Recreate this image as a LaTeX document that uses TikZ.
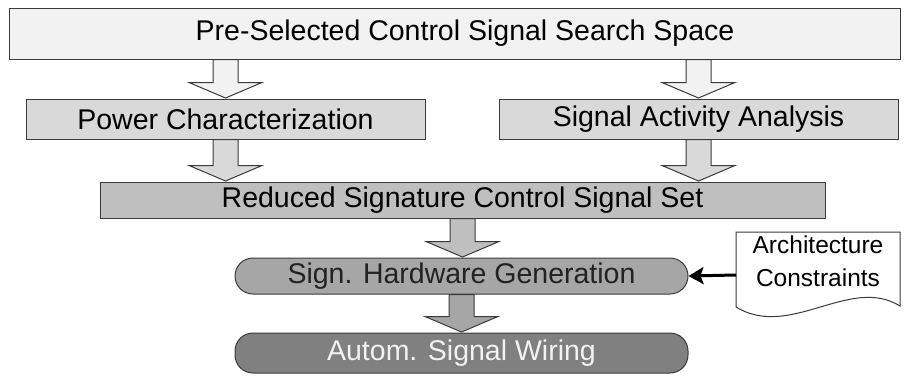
\documentclass[tikz,border=0pt]{standalone}
\usepackage{fontspec}
\setmainfont{Liberation Sans}
\usetikzlibrary{arrows.meta,calc}
\definecolor{lineC}{HTML}{3A3A3A}
\definecolor{fTop}{HTML}{F2F2F2}
\definecolor{fMid}{HTML}{D9D9D9}
\definecolor{fRed}{HTML}{BFBFBF}
\definecolor{fSig}{HTML}{A6A6A6}
\definecolor{fAut}{HTML}{808080}
\definecolor{tSig}{HTML}{222222}
\definecolor{tAut}{HTML}{F2F2F2}
\tikzset{
  boxbase/.style={draw=lineC, line width=1pt, inner sep=0pt, font=\fontsize{28.5pt}{34pt}\selectfont},
  flatbox/.style={boxbase, rectangle},
  pillbox/.style={boxbase, rectangle, rounded corners=18pt},
  arrowline/.style={draw=lineC, line width=1pt, line join=miter},
  docline/.style={draw=lineC, line width=1pt, fill=white},
  feedarrow/.style={line width=3pt, -{Stealth[length=15pt,width=17pt,inset=3pt]}}
}
% #1 source, #2 target, #3 node giving the arrow's x, #4 fill
\newcommand\blockarrow[4]{%
  \path[arrowline, fill=#4] let \p1=(#2.north), \p2=(#1.south), \p3=(#3.center) in
    (\x3-12.5pt,\y2) -- (\x3-12.5pt,\y1+16pt) -- (\x3-36.5pt,\y1+16pt) --
    (\x3,\y1+0.5pt) -- (\x3+36.5pt,\y1+16pt) -- (\x3+12.5pt,\y1+16pt) --
    (\x3+12.5pt,\y2) -- cycle;}
\begin{document}
\begin{tikzpicture}[x=1pt,y=-1pt]
\useasboundingbox (0,0) rectangle (904,376);
% boxes
\node[flatbox, fill=fTop, minimum width=891pt, minimum height=51pt] (top) at (455,33.5) {\hspace*{20pt}Pre-Selected Control Signal Search Space};
\node[flatbox, fill=fMid, minimum width=399pt, minimum height=40pt] (pc) at (225.5,119) {Power Characterization};
\node[flatbox, fill=fMid, minimum width=399pt, minimum height=40pt] (sa) at (698.5,119) {Signal Activity Analysis};
\node[flatbox, fill=fRed, minimum width=725pt, minimum height=36pt] (red) at (462.5,200) {Reduced Signature Control Signal Set};
\node[pillbox, fill=fSig, text=tSig, minimum width=453pt, minimum height=36pt] (shg) at (461.5,276) {Sign. Hardware Generation};
\node[pillbox, fill=fAut, text=tAut, minimum width=453pt, minimum height=40pt] (asw) at (461.5,353) {Autom. Signal Wiring};
% block arrows
\blockarrow{top}{pc}{pc}{fTop}
\blockarrow{top}{sa}{sa}{fTop}
\blockarrow{pc}{red}{pc}{fMid}
\blockarrow{sa}{red}{sa}{fMid}
\blockarrow{red}{shg}{red}{fRed}
\blockarrow{shg}{asw}{shg}{fSig}
% document shape
\path[docline] (736,232) -- (900,232) -- (900,306)
  .. controls (850,275) and (790,340) .. (736,307) -- cycle;
\node[align=center, inner sep=0pt, font=\fontsize{24.5pt}{33pt}\selectfont] (ac) at (818,261) {Architecture\\Constraints};
\coordinate (docw) at (736,275);
\draw[feedarrow] (docw) -- (shg.east);
\end{tikzpicture}
\end{document}
